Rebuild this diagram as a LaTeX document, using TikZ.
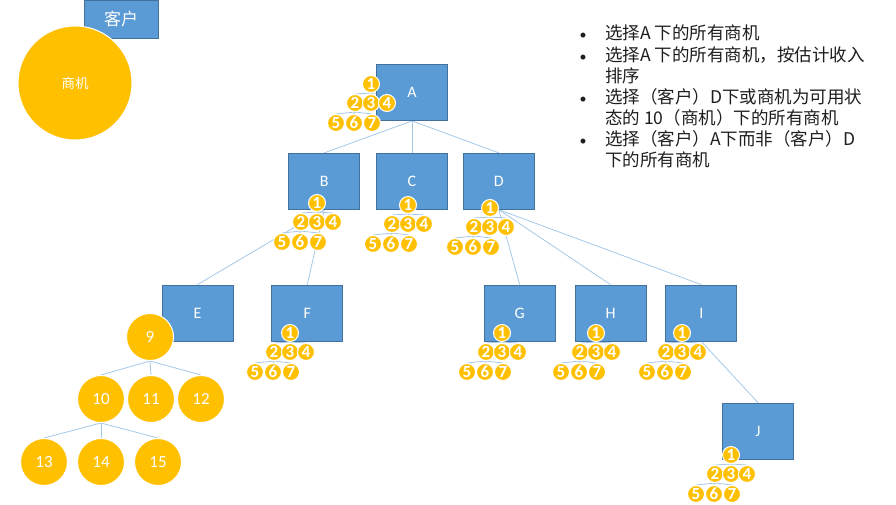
\documentclass[tikz,border=0pt]{standalone}
\usepackage{fontspec}
\setmainfont{Carlito}
\newfontfamily\cjk{Noto Sans CJK SC}
\usepackage{tikz}
\usetikzlibrary{calc,positioning,backgrounds}
\definecolor{Box}{HTML}{5B9BD5}
\definecolor{BoxEdge}{HTML}{41719C}
\definecolor{Gold}{HTML}{FFC000}
\definecolor{Link}{HTML}{A6C8E8}
\definecolor{Ink}{HTML}{1E1E1E}
\tikzset{box/.style={draw=BoxEdge,fill=Box,line width=.8pt,minimum width=71pt,minimum height=56pt,text=white,font=\fontsize{16}{16}\selectfont},ball/.style={circle,fill=Gold,draw=white,line width=1pt,minimum size=17pt,inner sep=0pt,text=white,font=\bfseries\fontsize{17}{17}\selectfont},bigball/.style={ball,minimum size=47pt,font=\mdseries\fontsize{17}{17}\selectfont},link/.style={draw=Link,line width=.8pt}}

\begin{document}
\begin{tikzpicture}[x=1pt,y=-1pt,node distance=16pt]
      \useasboundingbox (0,0) rectangle (896,504);
      % legend
      \node[box,minimum width=74pt,minimum height=38pt,font=\cjk\fontsize{17}{17}\selectfont](cust) at (121,19){客户};
      \node[bigball,minimum size=114pt,font=\cjk\fontsize{13.5}{13.5}\selectfont](opp) at (75,83){商机};
      % accounts
      \node[box](A) at (412,92.5){A};
      \node[box,below=32pt of A](C){C};
      \node[box,left=16pt of C](B){B};
      \node[box,right=15pt of C](D){D};
      \node[box](E) at (197.5,313){E};
      \node[box,right=38pt of E](F){F};
      \node[box](H) at (610.5,313){H};
      \node[box,left=19pt of H](G){G};
      \node[box,right=19pt of H](I){I};
      \node[box](J) at (758,431){J};
      \begin{scope}[on background layer]
        \foreach \kid in {B,C,D} \draw[link](A.south)--(\kid.north);
        \foreach \kid in {E,F} \draw[link](B.south)--(\kid.north);
        \foreach \kid in {G,H,I} \draw[link](D.south)--(\kid.north);
        \draw[link](I.south)--(J.north);
      \end{scope}
      % opportunities under each account
      \foreach \g/\x/\y in {A/371/84,B/317/203,C/408/205,D/490/208,F/290/333,G/502/333,H/596/333,I/682/333,J/731/455}{
        \node[ball](\g1) at (\x,\y){1};
        \foreach \n/\dx/\dy in {2/-16/19,3/0/19,4/16/19,5/-35/39,6/-17/39,7/1/39}
          \node[ball](\g\n) at ($(\g1)+(\dx,\dy)$){\n};
        \begin{scope}[on background layer]
          \foreach \n in {2,3,4} \draw[link](\g1.south)--(\g\n.north);
          \foreach \n in {5,6,7} \draw[link](\g2.south)--(\g\n.north);
        \end{scope}
      }
      % opportunity tree under E
      \node[bigball](o9) at (150,337){9};
      \node[bigball](o10) at (101,399){10};
      \node[bigball](o11) at (151,399){11};
      \node[bigball](o12) at (201,399){12};
      \node[bigball](o13) at (44,462){13};
      \node[bigball](o14) at (101,462){14};
      \node[bigball](o15) at (158,462){15};
      \begin{scope}[on background layer]
        \foreach \kid in {o10,o11,o12} \draw[link](o9.south)--(\kid.north);
        \foreach \kid in {o13,o14,o15} \draw[link](o10.south)--(\kid.north);
      \end{scope}
      % queries
      \node[anchor=north west,inner sep=0pt,text=Ink,font=\cjk\fontsize{17.5}{20.8}\selectfont](notes) at (577,25){\begin{tabular}{@{}p{28pt}@{}l@{}}
        \makebox[12pt]{\rmfamily\fontsize{14}{14}\selectfont•} & 选择A 下的所有商机\\
        \makebox[12pt]{\rmfamily\fontsize{14}{14}\selectfont•} & 选择A 下的所有商机，按估计收入\\
         & 排序\\
        \makebox[12pt]{\rmfamily\fontsize{14}{14}\selectfont•} & 选择（客户）D下或商机为可用状\\
         & 态的 10（商机）下的所有商机\\
        \makebox[12pt]{\rmfamily\fontsize{14}{14}\selectfont•} & 选择（客户）A下而非（客户）D\\
         & 下的所有商机
      \end{tabular}};
    \end{tikzpicture}
\end{document}
